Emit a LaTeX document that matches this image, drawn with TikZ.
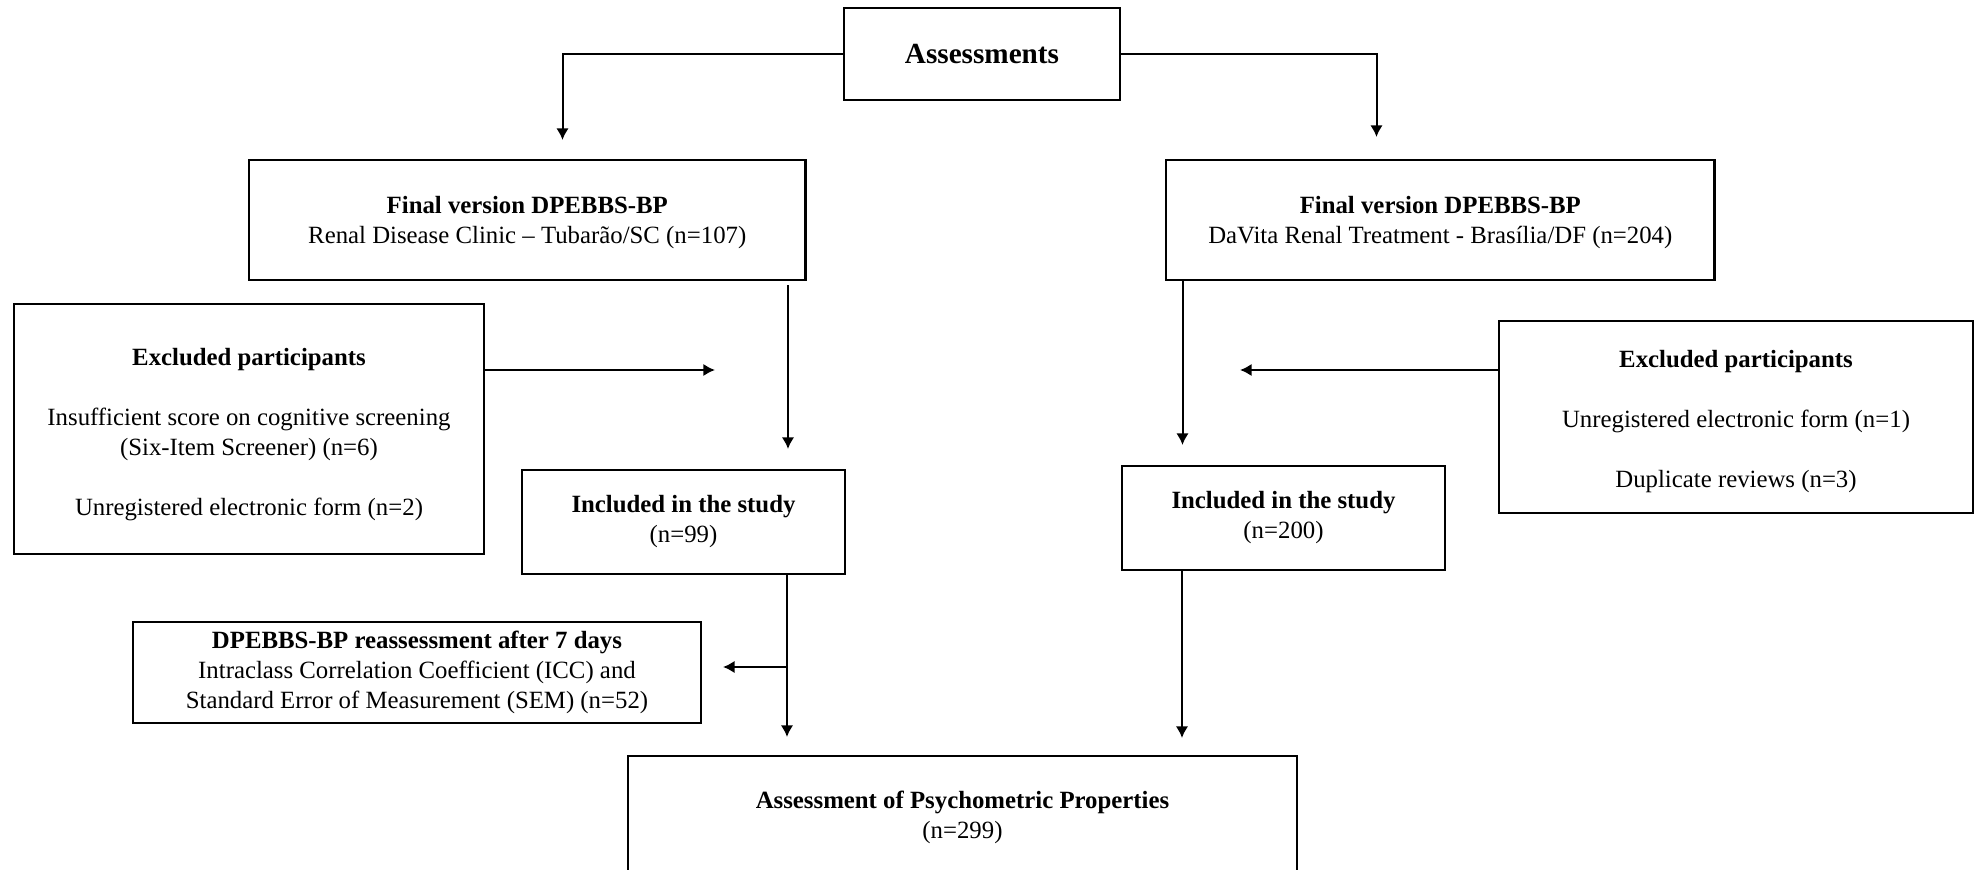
\documentclass[tikz,border=0pt]{standalone}
\usepackage{fontspec}
\setmainfont{Liberation Serif}
\usetikzlibrary{arrows.meta}
\tikzset{
  box/.style={draw=black, line width=1.3pt, inner sep=0pt, align=center,
    font=\fontsize{12.4}{15}\selectfont},
  arr/.style={draw=black, line width=1pt, -{Latex[length=5.8pt,width=6.2pt]}},
  exarr/.style={arr, line width=1.25pt},
  conn/.style={draw=black, line width=1pt}
}
\begin{document}
\begin{tikzpicture}[x=0.5pt,y=-0.5pt]
\useasboundingbox (0,0) rectangle (1978,870);
\clip (0,0) rectangle (1978,870);
\fill[white] (0,0) rectangle (1978,870);

% boxes
\node[box, minimum width=138pt, minimum height=46pt, font=\fontsize{14.6}{17}\selectfont\bfseries] (asm) at (982,54) {Assessments};
\node[box, minimum width=278.25pt, minimum height=60pt] (lf) at (527.25,220)
  {\rule{0pt}{11pt}\textbf{Final version DPEBBS-BP}\\Renal Disease Clinic -- Tubarão/SC (n=107)};
\node[box, minimum width=274.3pt, minimum height=60pt] (rf) at (1440.3,220)
  {\rule{0pt}{11pt}\textbf{Final version DPEBBS-BP}\\DaVita Renal Treatment - Brasília/DF (n=204)};
\node[box, minimum width=235pt, minimum height=125pt] (le) at (249,429)
  {\rule{0pt}{14.5pt}\textbf{Excluded participants}\\[15pt]Insufficient score on cognitive screening\\(Six-Item Screener) (n=6)\\[15pt]Unregistered electronic form (n=2)};
\node[box, minimum width=237pt, minimum height=96pt] (re) at (1736,417)
  {\rule{0pt}{13.5pt}\textbf{Excluded participants}\\[15pt]Unregistered electronic form (n=1)\\[15pt]Duplicate reviews (n=3)};
\node[box, minimum width=161.5pt, minimum height=52pt] (li) at (683.5,522)
  {\textbf{Included in the study}\\(n=99)};
\node[box, minimum width=161.5pt, minimum height=52pt] (ri) at (1283.5,518)
  {\textbf{Included in the study}\\(n=200)};
\node[box, minimum width=284pt, minimum height=50.5pt] (rs) at (417,672.5)
  {\textbf{DPEBBS-BP reassessment after 7 days}\\Intraclass Correlation Coefficient (ICC) and\\Standard Error of Measurement (SEM) (n=52)};
\node[box, minimum width=334.5pt, minimum height=61.5pt] (bt) at (962.5,817.5)
  {\textbf{Assessment of Psychometric Properties}\\(n=299)};

% free ends
\coordinate (tl) at (562.5,140);
\coordinate (tr) at (1376.5,137);
\coordinate (l2) at (788,449);
\coordinate (e1) at (715,370);
\coordinate (r2) at (1182.5,445);
\coordinate (e2) at (1240,370);
\coordinate (l3) at (787,737);
\coordinate (bl) at (723,667);
\coordinate (r3) at (1182,738);

% connectors
\draw[arr] (asm.west) -| (tl);
\draw[arr] (asm.east) -| (tr);
\draw[arr] ([yshift=-2pt]lf.south -| l2) -- (l2);
\draw[exarr] (e1 -| le.east) -- (e1);
\draw[arr] (rf.south -| r2) -- (r2);
\draw[exarr] (e2 -| re.west) -- (e2);
\draw[arr] (li.south -| l3) -- (l3);
\draw[arr] (bl -| l3) -- (bl);
\draw[arr] (ri.south -| r3) -- (r3);
\end{tikzpicture}
\end{document}
